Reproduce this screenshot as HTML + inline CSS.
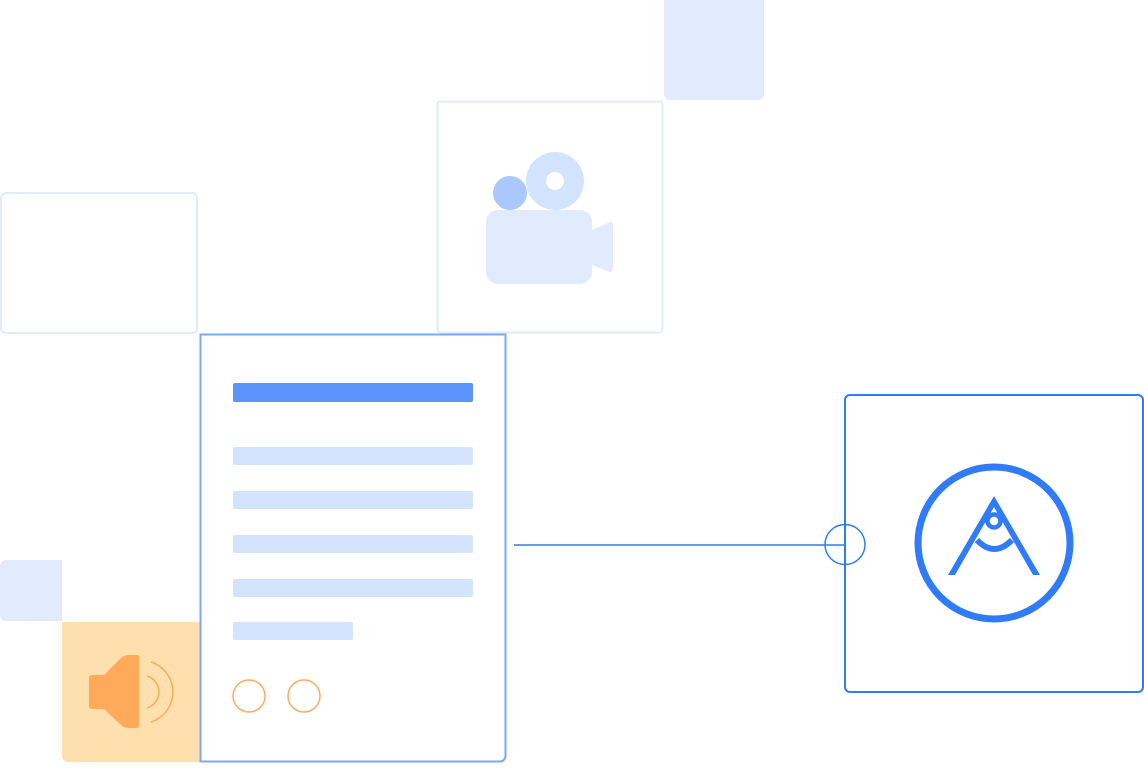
<!DOCTYPE html><html><head><style>html,body{margin:0;padding:0;background:#fff}</style></head><body>
<svg width="1144" height="763" viewBox="0 0 1144 763" xmlns="http://www.w3.org/2000/svg">
<path d="M664 0H764V94a6 6 0 0 1-6 6H670a6 6 0 0 1-6-6Z" fill="#e2ebfd"/>
<rect x="437.5" y="101.5" width="225" height="231" rx="3" fill="none" stroke="#e2ebfd" stroke-width="2"/>
<rect x="1" y="193" width="196" height="140" rx="5" fill="none" stroke="#e2ebfd" stroke-width="2"/>
<circle cx="555" cy="181" r="29" fill="#d3e2fd"/><circle cx="555" cy="181" r="9" fill="#fff"/>
<circle cx="510" cy="193" r="17" fill="#aac8fc"/>
<rect x="486" y="210" width="106" height="74" rx="12" fill="#e2ebfd"/>
<path d="M592 230L610 222a3 3 0 0 1 3 3V269a3 3 0 0 1-3 3L592 265Z" fill="#e2ebfd"/>
<path d="M6 560H62V621H6a6 6 0 0 1-6-6V566a6 6 0 0 1 6-6Z" fill="#e2ebfd"/>
<path d="M62 622H200V762H68a6 6 0 0 1-6-6Z" fill="#fee0af"/>
<path d="M92 675H104L122 657Q125 655 130 655H137a2 2 0 0 1 2 2V726a2 2 0 0 1-2 2H130Q125 728 122 726L104 709H92a3 3 0 0 1-3-3V678a3 3 0 0 1 3-3Z" fill="#ffaa5a"/>
<path d="M147 676A16.7 16.7 0 0 1 147 708" fill="none" stroke="#ffaa5a" stroke-width="1.5"/>
<path d="M151 662A31.5 31.5 0 0 1 151 722" fill="none" stroke="#ffaa5a" stroke-width="1.5"/>
<path d="M200.5 334.5H505.5V756a5.5 5.5 0 0 1-5.5 5.5H200.5Z" fill="#fff" stroke="#7aa8f7" stroke-width="2"/>
<rect x="233" y="383" width="240" height="19" rx="2" fill="#5b94fb"/>
<rect x="233" y="447" width="240" height="18" rx="2" fill="#d3e2fd"/>
<rect x="233" y="491" width="240" height="18" rx="2" fill="#d3e2fd"/>
<rect x="233" y="535" width="240" height="18" rx="2" fill="#d3e2fd"/>
<rect x="233" y="579" width="240" height="18" rx="2" fill="#d3e2fd"/>
<rect x="233" y="622" width="120" height="18" rx="2" fill="#d3e2fd"/>
<circle cx="249" cy="696" r="16" fill="none" stroke="#ffaa60" stroke-width="1.5"/>
<circle cx="304" cy="696" r="16" fill="none" stroke="#ffaa60" stroke-width="1.5"/>
<line x1="514" y1="545" x2="845" y2="545" stroke="#2f7bf8" stroke-width="1.5"/>
<rect x="845" y="395" width="298" height="297" rx="5" fill="none" stroke="#2f7bf8" stroke-width="2"/>
<circle cx="845" cy="544.5" r="20" fill="none" stroke="#2f7bf8" stroke-width="1.5"/>
<circle cx="994" cy="543" r="76" fill="none" stroke="#2f7bf8" stroke-width="7"/>
<path d="M994 496L948 575H955L994 507L1033 575H1040Z" fill="#2f7bf8"/>
<circle cx="994" cy="521" r="6.5" fill="none" stroke="#2f7bf8" stroke-width="4.5"/>
<path d="M977 540Q994 558 1012 540" fill="none" stroke="#2f7bf8" stroke-width="6"/>
</svg></body></html>
